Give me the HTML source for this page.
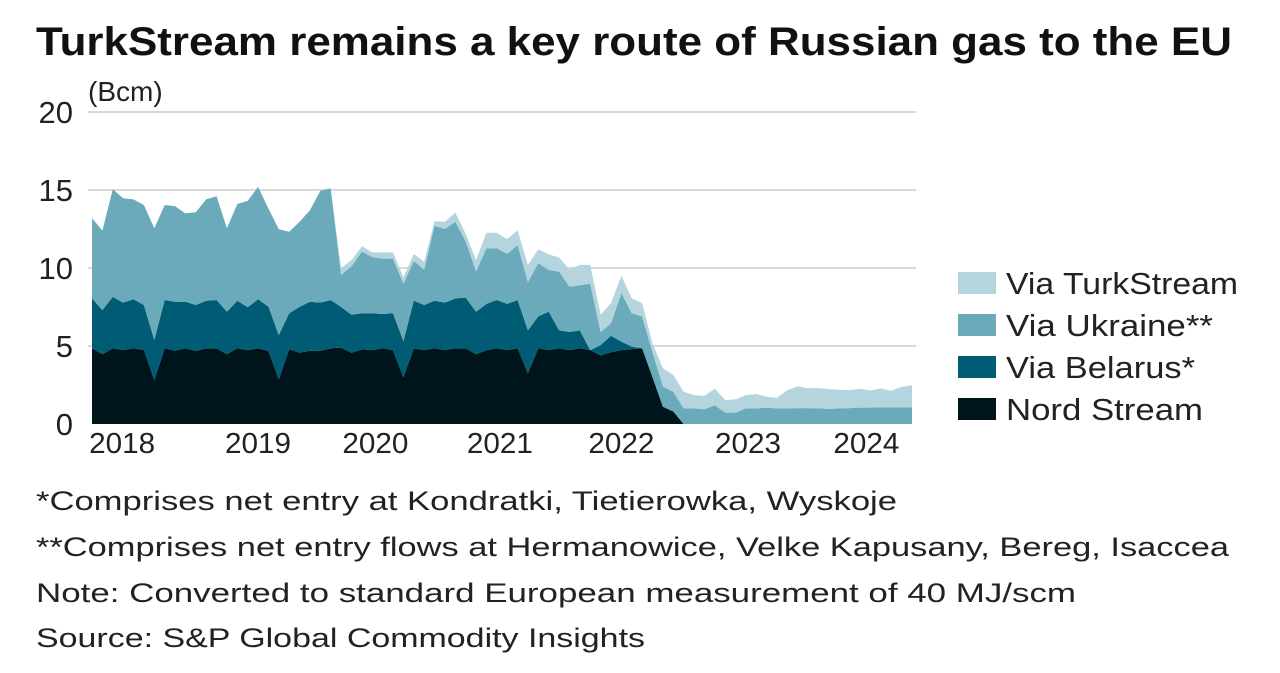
<!DOCTYPE html>
<html><head><meta charset="utf-8"><style>
html,body{margin:0;padding:0;background:#fff;}
svg{display:block;font-family:"Liberation Sans",sans-serif;}
</style></head><body>
<svg id="chart" width="1280" height="673" viewBox="0 0 1280 673">
<rect x="0" y="0" width="1280" height="673" fill="#fff"/>
<text x="36" y="55" font-size="40" font-weight="bold" fill="#111" textLength="1196" lengthAdjust="spacingAndGlyphs">TurkStream remains a key route of Russian gas to the EU</text>
<text x="88" y="101" font-size="28" fill="#222">(Bcm)</text>
<g id="grid"></g>
<g id="areas"></g>
<g id="xlabels"></g>
<g id="legend"></g>
<g font-size="27" fill="#222">
<text x="36" y="510" textLength="861" lengthAdjust="spacingAndGlyphs">*Comprises net entry at Kondratki, Tietierowka, Wyskoje</text>
<text x="36" y="556" textLength="1193" lengthAdjust="spacingAndGlyphs">**Comprises net entry flows at Hermanowice, Velke Kapusany, Bereg, Isaccea</text>
<text x="36" y="602" textLength="1040" lengthAdjust="spacingAndGlyphs">Note: Converted to standard European measurement of 40 MJ/scm</text>
<text x="36" y="647" textLength="609" lengthAdjust="spacingAndGlyphs">Source: S&amp;P Global Commodity Insights</text>
</g>
</svg>
<script>
const yTicks = [0, 5, 10, 15, 20];
const yearLabels = ["2018","2019","2020","2021","2022","2023","2024"];
const yearLabelIdx = [2.9, 16, 27.3, 39.3, 51, 63.2, 74.6];
const seriesNames = ["Nord Stream","Via Belarus*","Via Ukraine**","Via TurkStream"];
const nordStream = [4.85,4.47,4.85,4.74,4.85,4.74,2.82,4.85,4.7,4.85,4.68,4.85,4.85,4.47,4.85,4.74,4.85,4.68,2.86,4.8,4.57,4.7,4.7,4.85,4.9,4.57,4.78,4.74,4.85,4.74,3.0,4.85,4.74,4.85,4.74,4.85,4.85,4.47,4.74,4.85,4.74,4.85,3.25,4.85,4.74,4.85,4.74,4.85,4.74,4.4,4.6,4.74,4.8,4.85,3.0,1.1,0.8,0,0,0,0,0,0,0,0,0,0,0,0,0,0,0,0,0,0,0,0,0,0,0];
const viaBelarus = [3.2,2.83,3.3,3.04,3.15,2.89,2.56,3.1,3.14,2.99,2.95,3.05,3.1,2.73,3.05,2.74,3.15,2.84,2.84,2.3,2.95,3.14,3.08,3.1,2.6,2.43,2.32,2.36,2.2,2.36,2.3,3.05,2.89,3.05,3.04,3.2,3.25,2.73,2.96,3.1,2.96,3.1,2.75,2.05,2.46,1.15,1.16,1.15,0,0.66,1.06,0.54,0.16,0,0,0,0,0,0,0,0,0,0,0,0,0,0,0,0,0,0,0,0,0,0,0,0,0,0,0];
const viaUkraine = [5.15,5.1,6.9,6.69,6.4,6.41,7.16,6.09,6.13,5.66,5.94,6.5,6.65,5.34,6.2,6.82,7.2,6.28,6.78,5.23,5.45,5.86,7.18,7.15,2.05,3.1,3.95,3.6,3.55,3.5,3.7,2.55,2.27,4.8,4.72,4.92,3.6,2.57,3.56,3.31,3.2,3.52,3.1,3.4,2.67,3.77,2.9,2.9,4.26,0.84,0.79,3.12,2.14,2.05,1.6,1.3,1.27,1.0,1.0,0.95,1.2,0.73,0.73,1.0,1.0,1.05,1.0,1.0,1.02,1.02,1.0,0.97,1.0,1.02,1.05,1.05,1.08,1.07,1.08,1.08];
const viaTurkStream = [0,0,0,0,0,0,0,0,0,0,0,0,0,0,0,0,0,0,0,0,0,0,0,0,0.45,0.4,0.35,0.3,0.4,0.4,0.4,0.45,0.5,0.3,0.47,0.58,0.5,0.73,1.0,1.0,0.95,0.95,1.1,0.9,1.0,0.9,1.1,1.3,1.2,1.1,1.3,1.1,0.95,0.85,0.57,1.17,1.07,1.07,0.85,0.85,1.07,0.8,0.85,0.85,0.92,0.7,0.68,1.17,1.39,1.28,1.3,1.27,1.2,1.15,1.2,1.1,1.2,1.05,1.3,1.4];
const legendWidths = [197, 189, 207, 232];
const NS = "http://www.w3.org/2000/svg";
const X0 = 92, X1 = 912, Y0 = 424, Y20 = 112;
const n = nordStream.length;
function xScale(i){ return X0 + (X1 - X0) * i / (n - 1); }
function yScale(v){ return Y0 - (Y0 - Y20) * v / 20; }
function mk(tag, attrs, parent){ const e = document.createElementNS(NS, tag); for (const k in attrs) e.setAttribute(k, attrs[k]); parent.appendChild(e); return e; }
const grid = document.getElementById('grid');
yTicks.forEach(t => {
  if (t > 0) {
    const l = mk('line', {x1: 88, x2: 916, y1: yScale(t), y2: yScale(t), stroke: '#dadada', 'stroke-width': 2}, grid);
    
    
  }
  const tx = mk('text', {x: 73, y: yScale(t) + 11, 'font-size': 31, fill: '#222', 'text-anchor': 'end'}, grid);
  tx.textContent = t;
  
  
});
const series = [nordStream, viaBelarus, viaUkraine, viaTurkStream];
const colors = ["#00141c", "#005c75", "#6aaabb", "#b4d5dd"];
const slugs = ["nord-stream", "via-belarus", "via-ukraine", "via-turkstream"];
const areas = document.getElementById('areas');
let base = new Array(n).fill(0);
series.forEach((s, k) => {
  const top = base.map((b, i) => b + s[i]);
  let d = '';
  for (let i = 0; i < n; i++) d += (i ? 'L' : 'M') + xScale(i).toFixed(1) + ',' + yScale(top[i]).toFixed(1);
  for (let i = n - 1; i >= 0; i--) d += 'L' + xScale(i).toFixed(1) + ',' + yScale(base[i]).toFixed(1);
  const p = mk('path', {d: d + 'Z', fill: colors[k]}, areas);
  
  
  base = top;
});
const xl = document.getElementById('xlabels');
yearLabels.forEach((y, i) => {
  const t = mk('text', {x: xScale(yearLabelIdx[i]), y: 453, 'font-size': 29, fill: '#222', 'text-anchor': 'middle', textLength: 66, lengthAdjust: 'spacingAndGlyphs'}, xl);
  t.textContent = y;
  
  
});
const lg = document.getElementById('legend');
for (let k = 3; k >= 0; k--) {
  const yy = 283 + (3 - k) * 42;
  const r = mk('rect', {x: 958, y: yy - 11, width: 38, height: 22, fill: colors[k]}, lg);
  
  
  const t = mk('text', {x: 1006, y: yy + 11, 'font-size': 31, fill: '#222', textLength: legendWidths[k], lengthAdjust: 'spacingAndGlyphs'}, lg);
  t.textContent = seriesNames[k];
  
  
}
</script>
</body></html>
